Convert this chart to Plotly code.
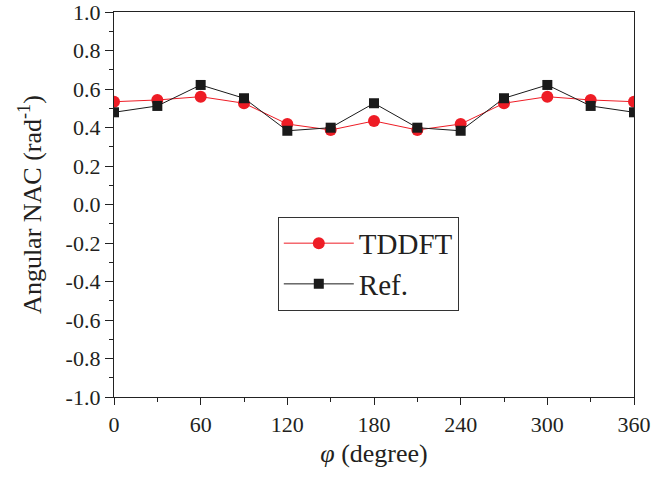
import plotly.graph_objects as go

phi = [0, 30, 60, 90, 120, 150, 180, 210, 240, 270, 300, 330, 360]
tddft = [0.534, 0.543, 0.56, 0.526, 0.418, 0.387, 0.434, 0.387, 0.418, 0.526, 0.56, 0.543, 0.534]
ref = [0.479, 0.512, 0.621, 0.552, 0.383, 0.399, 0.526, 0.399, 0.383, 0.552, 0.621, 0.512, 0.479]
xticks = [0, 60, 120, 180, 240, 300, 360]
yticks = [round(-1.0 + 0.2 * i, 1) for i in range(11)]
ytext = ["%.1f" % v for v in yticks]

font = "Liberation Serif"

fig = go.Figure()
fig.add_trace(go.Scatter(x=phi, y=tddft, mode="lines+markers", name="TDDFT",
                         line=dict(color="#ee1c25", width=1),
                         marker=dict(symbol="circle", size=12, color="#ee1c25")))
fig.add_trace(go.Scatter(x=phi, y=ref, mode="lines+markers", name="Ref.",
                         line=dict(color="#1a1a1a", width=1),
                         marker=dict(symbol="square", size=10, color="#1a1a1a")))

axcommon = dict(showgrid=False, zeroline=False, showline=True, linecolor="#222222",
                linewidth=1.3, mirror=True, automargin=False, ticklabeloverflow="allow")
fig.update_layout(
    width=652, height=479,
    margin=dict(l=114, r=18, t=12, b=82),
    paper_bgcolor="white", plot_bgcolor="white",
    font=dict(family=font, color="#231f20"),
    showlegend=True,
    legend=dict(x=0.315, y=0.468, xanchor="left", yanchor="top",
                bordercolor="#333333", borderwidth=1, bgcolor="white",
                itemwidth=70,
                font=dict(size=29, family=font), tracegroupgap=0),
    xaxis=dict(range=[0, 360], tickvals=xticks, ticks="outside", ticklen=7, tickwidth=1.2,
               tickcolor="#222222",
               minor=dict(dtick=30, ticks="outside", ticklen=4, tickwidth=1, tickcolor="#222222"),
               tickfont=dict(size=22, family=font),
               title=dict(text="<i>φ</i> (degree)", font=dict(size=26, family=font), standoff=8),
               **axcommon),
    yaxis=dict(range=[-1.0, 1.0], tickvals=yticks, ticktext=ytext, ticks="outside", ticklen=8, tickwidth=1.2,
               tickcolor="#222222",
               minor=dict(dtick=0.1, ticks="outside", ticklen=4, tickwidth=1, tickcolor="#222222"),
               tickfont=dict(size=22, family=font),
               title=dict(text="Angular NAC (rad<sup>-1</sup>)", font=dict(size=26, family=font), standoff=16),
               **axcommon),
)

fig.write_html("out.html", config={"displayModeBar": False},
               post_script="document.body.style.margin='0';")
